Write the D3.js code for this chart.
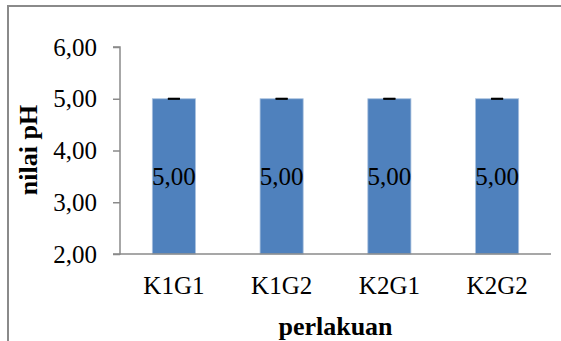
<!DOCTYPE html>
<html><head><meta charset="utf-8">
<script src="https://cdn.jsdelivr.net/npm/d3@7"></script>
<style>
html,body{margin:0;padding:0;background:#fff;}
svg{display:block;}
text{font-family:"Liberation Serif","Times New Roman",serif;fill:#000;}
</style></head>
<body>
<script>
const categories = ["K1G1","K1G2","K2G1","K2G2"];
const values = [5.00,5.00,5.00,5.00];
const errors = [0,0,0,0];
const yTicks = [2,3,4,5,6];
const yTitle = "nilai pH";
const xTitle = "perlakuan";

(function(){
const W = 561, H = 341;
const svg = d3.select("body").append("svg").attr("width",W).attr("height",H);

// outer frame
svg.append("rect").attr("x",8).attr("y",6).attr("width",700).attr("height",500)
  .attr("fill","none").attr("stroke","#8a8a8a").attr("stroke-width",2);

const pL = 120, pR = 551, pT = 47, pB = 254;
const fmt = d => d.toFixed(2).replace(".", ",");

const x = d3.scaleBand().domain(categories).range([pL,pR]).paddingInner(0.6).paddingOuter(0.3);
const y = d3.scaleLinear().domain([2,6]).range([pB,pT]);

// y axis
const yAxis = svg.append("g").attr("transform",`translate(${pL},0)`)
  .call(d3.axisLeft(y).tickValues(yTicks).tickFormat(fmt).tickSize(7).tickPadding(16));
yAxis.select(".domain").attr("stroke","#8a8a8a").attr("stroke-width",1.5).attr("d",`M-7,${pT}H0V${pB}H-7`);
yAxis.selectAll(".tick line").attr("stroke","#8a8a8a").attr("stroke-width",1.5);
yAxis.selectAll(".tick text").attr("font-size",25).attr("font-family","Liberation Serif").attr("fill","#000").attr("dy","0.32em");

// bars
svg.append("g").selectAll("rect").data(values).join("rect")
  .attr("x",(d,i)=>x(categories[i]))
  .attr("width",x.bandwidth())
  .attr("y",d=>y(d))
  .attr("height",d=>y(2)-y(d))
  .attr("fill","#4F81BD")
  .attr("stroke","#a9c0de").attr("stroke-width",0.8);

// x axis
const xAxis = svg.append("g").attr("transform",`translate(0,${pB})`)
  .call(d3.axisBottom(x).tickSize(0).tickPadding(22));
xAxis.select(".domain").attr("stroke","#8a8a8a").attr("stroke-width",1.5).attr("d",`M${pL},0H${pR}`);
xAxis.selectAll(".tick text").attr("font-size",25).attr("font-family","Liberation Serif").attr("fill","#000");

// error bars
const eb = svg.append("g");
values.forEach((v,i)=>{
  const cx = x(categories[i]) + x.bandwidth()/2;
  eb.append("line").attr("x1",cx).attr("x2",cx).attr("y1",y(v+errors[i])).attr("y2",y(v-errors[i])).attr("stroke","#000").attr("stroke-width",1.5);
  [v+errors[i], v-errors[i]].forEach(e=>{
    eb.append("line").attr("x1",cx-6).attr("x2",cx+6).attr("y1",y(e)).attr("y2",y(e)).attr("stroke","#000").attr("stroke-width",1.8);
  });
});

// data labels
svg.append("g").selectAll("text").data(values).join("text")
  .attr("x",(d,i)=>x(categories[i])+x.bandwidth()/2)
  .attr("y",d=>y((d+2)/2))
  .attr("dy","0.35em")
  .attr("text-anchor","middle")
  .attr("font-size",25)
  .text(fmt);

// axis titles
svg.append("text").attr("transform",`translate(37,150) rotate(-90)`)
  .attr("text-anchor","middle").attr("font-weight","bold").attr("font-size",26).text(yTitle);
svg.append("text").attr("x",(pL+pR)/2).attr("y",335)
  .attr("text-anchor","middle").attr("font-weight","bold").attr("font-size",26).text(xTitle);
})();
</script>
</body></html>
